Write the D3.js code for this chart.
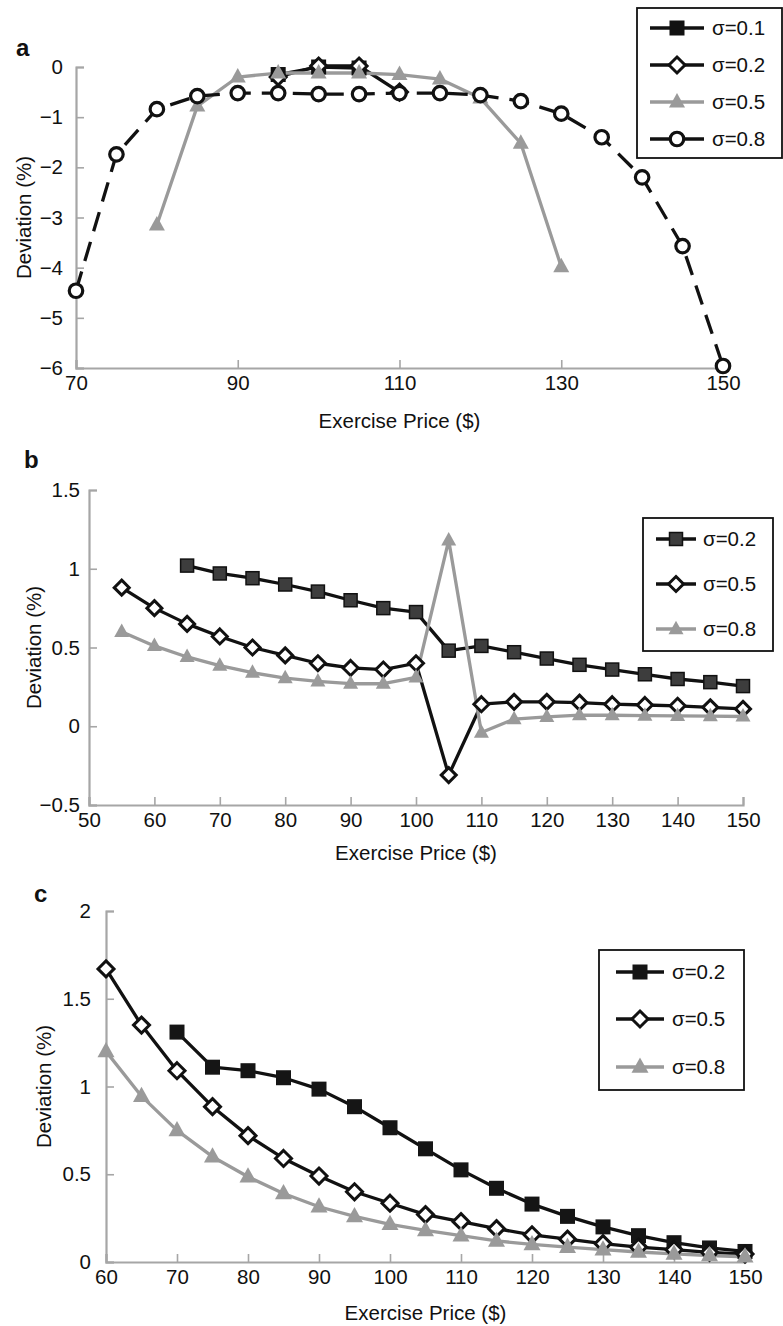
<!DOCTYPE html>
<html><head><meta charset="utf-8">
<script src="https://cdn.jsdelivr.net/npm/d3@7"></script>
<style>
body{margin:0;background:#fff;}
svg{display:block;font-family:"Liberation Sans",Arial,sans-serif;}
</style></head>
<body><svg id="chart" width="783" height="1326"></svg>
<script>
// ---------- Panel a data ----------
const aTicksX = [70, 90, 110, 130, 150];
const aTicksY = [0, -1, -2, -3, -4, -5, -6];
const aS01 = [[95,-0.15],[100,0],[105,-0.02]];
const aS02 = [[95,-0.2],[100,0.02],[105,0.02],[110,-0.5]];
const aS05 = [[80,-3.15],[85,-0.78],[90,-0.2],[95,-0.12],[100,-0.12],[105,-0.12],[110,-0.15],[115,-0.24],[120,-0.62],[125,-1.52],[130,-3.98]];
const aS08 = [[70,-4.46],[75,-1.74],[80,-0.84],[85,-0.58],[90,-0.52],[95,-0.52],[100,-0.54],[105,-0.54],[110,-0.52],[115,-0.52],[120,-0.56],[125,-0.68],[130,-0.93],[135,-1.4],[140,-2.2],[145,-3.57],[150,-5.96]];
const aLegend = ["σ=0.1","σ=0.2","σ=0.5","σ=0.8"];

// ---------- Panel b data ----------
const bTicksX = [50,60,70,80,90,100,110,120,130,140,150];
const bTicksY = [-0.5, 0, 0.5, 1, 1.5];
const bS02 = [[65,1.02],[70,0.97],[75,0.94],[80,0.9],[85,0.855],[90,0.8],[95,0.75],[100,0.725],[105,0.48],[110,0.51],[115,0.47],[120,0.43],[125,0.39],[130,0.36],[135,0.33],[140,0.3],[145,0.28],[150,0.255]];
const bS05 = [[55,0.88],[60,0.75],[65,0.65],[70,0.57],[75,0.5],[80,0.45],[85,0.4],[90,0.37],[95,0.36],[100,0.4],[105,-0.31],[110,0.14],[115,0.155],[120,0.155],[125,0.15],[130,0.14],[135,0.135],[140,0.13],[145,0.12],[150,0.11]];
const bS08 = [[55,0.6],[60,0.51],[65,0.44],[70,0.385],[75,0.34],[80,0.305],[85,0.285],[90,0.27],[95,0.27],[100,0.31],[105,1.18],[110,-0.04],[115,0.045],[120,0.06],[125,0.07],[130,0.07],[135,0.068],[140,0.066],[145,0.064],[150,0.062]];
const bLegend = ["σ=0.2","σ=0.5","σ=0.8"];

// ---------- Panel c data ----------
const cTicksX = [60,70,80,90,100,110,120,130,140,150];
const cTicksY = [0, 0.5, 1, 1.5, 2];
const cS02 = [[70,1.31],[75,1.11],[80,1.09],[85,1.05],[90,0.985],[95,0.885],[100,0.765],[105,0.645],[110,0.525],[115,0.42],[120,0.33],[125,0.26],[130,0.2],[135,0.15],[140,0.11],[145,0.08],[150,0.06]];
const cS05 = [[60,1.67],[65,1.35],[70,1.09],[75,0.885],[80,0.72],[85,0.59],[90,0.49],[95,0.4],[100,0.335],[105,0.27],[110,0.23],[115,0.19],[120,0.155],[125,0.13],[130,0.105],[135,0.085],[140,0.07],[145,0.055],[150,0.045]];
const cS08 = [[60,1.2],[65,0.945],[70,0.75],[75,0.6],[80,0.486],[85,0.39],[90,0.315],[95,0.26],[100,0.215],[105,0.18],[110,0.15],[115,0.12],[120,0.1],[125,0.085],[130,0.07],[135,0.057],[140,0.046],[145,0.037],[150,0.03]];
const cLegend = ["σ=0.2","σ=0.5","σ=0.8"];

const svg = d3.select("#chart");
const AX = "#a6a6a6", BLK = "#111", GRY = "#9a9a9a";
const FONT = "Liberation Sans, Arial, sans-serif";

function marker(g, type, x, y, st){
  let s = st.size;
  if(type==="square"){
    g.append("rect").attr("x",x-s/2).attr("y",y-s/2).attr("width",s).attr("height",s)
      .attr("fill",st.fill).attr("stroke",st.stroke||"none").attr("stroke-width",st.sw||0);
  } else if(type==="diamond"){
    const h = s/2;
    g.append("path").attr("d",`M${x},${y-h}L${x+h},${y}L${x},${y+h}L${x-h},${y}Z`)
      .attr("fill","#fff").attr("stroke",BLK).attr("stroke-width",3);
  } else if(type==="triangle"){
    const w = s, h = s*0.9;
    g.append("path").attr("d",`M${x},${y-h*0.62}L${x+w/2},${y+h*0.38}L${x-w/2},${y+h*0.38}Z`)
      .attr("fill",GRY);
  } else if(type==="circle"){
    g.append("circle").attr("cx",x).attr("cy",y).attr("r",s/2)
      .attr("fill","#fff").attr("stroke",BLK).attr("stroke-width",3.2);
  }
}

function panel(cfg){
  const x = d3.scaleLinear().domain(cfg.xd).range([cfg.x0,cfg.x1]);
  const y = d3.scaleLinear().domain(cfg.yd).range([cfg.y1,cfg.y0]);
  const g = svg.append("g");
  const ax = g.append("g").attr("transform",`translate(0,${cfg.y1})`)
    .call(d3.axisBottom(x).tickValues(cfg.tx).tickSize(-8).tickFormat(d3.format("d")));
  const ay = g.append("g").attr("transform",`translate(${cfg.x0},0)`)
    .call(d3.axisLeft(y).tickValues(cfg.ty).tickSize(-8).tickPadding(cfg.ypad).tickFormat(d=>d<0?"\u2212"+Math.abs(d):String(d)));
  [ax,ay].forEach(a=>{
    a.attr("font-size",null).attr("font-family",null);
    a.select(".domain").attr("stroke",AX).attr("stroke-width",2.2);
    a.selectAll(".tick line").attr("stroke",AX).attr("stroke-width",1.6);
    a.selectAll(".tick text").attr("fill","#111").style("font-size",cfg.fs+"px").style("font-family",FONT);
  });
  ax.selectAll(".tick text").attr("y",cfg.xOff).attr("dy","0.71em");
  g.append("text").attr("x",(cfg.x0+cfg.x1)/2).attr("y",cfg.xtY).attr("text-anchor","middle")
    .style("font-size",cfg.fs+"px").attr("fill","#111").text("Exercise Price ($)");
  g.append("text").attr("transform",`translate(${cfg.ytX},${(cfg.y0+cfg.y1)/2}) rotate(-90)`)
    .attr("text-anchor","middle").style("font-size",cfg.fs+"px").attr("fill","#111").text("Deviation (%)");
  g.append("text").attr("x",cfg.lblX).attr("y",cfg.lblY).style("font-size","24px").attr("font-weight","bold")
    .attr("fill","#111").text(cfg.lbl);
  const line = d3.line().x(d=>x(d[0])).y(d=>y(d[1]));
  cfg.series.forEach(s=>{
    g.append("path").datum(s.data).attr("d",line).attr("fill","none")
      .attr("stroke",s.color).attr("stroke-width",s.lw||3.3).attr("stroke-linejoin","round")
      .attr("stroke-dasharray",s.dash||null);
  });
  cfg.series.forEach(s=>{
    s.data.forEach(d=>marker(g,s.type,x(d[0]),y(d[1]),s.st));
  });
  const L = cfg.leg;
  g.append("rect").attr("x",L.x).attr("y",L.y).attr("width",L.w).attr("height",L.h)
    .attr("fill","#fff").attr("stroke","#111").attr("stroke-width",1.8);
  cfg.series.forEach((s,i)=>{
    const yy = L.ey[i];
    g.append("line").attr("x1",L.lx0).attr("x2",L.lx1).attr("y1",yy).attr("y2",yy)
      .attr("stroke",s.color).attr("stroke-width",3.4);
    marker(g,s.type,(L.lx0+L.lx1)/2,yy,s.st);
    g.append("text").attr("x",L.tx).attr("y",yy).attr("dy","0.36em").style("font-size",L.fs+"px")
      .attr("fill","#111").text(cfg.names[i]);
  });
}

panel({
  xd:[70,150], yd:[-6,0], x0:76, x1:723, y0:67, y1:368, tx:aTicksX, ty:aTicksY, fs:20.5, ypad:13, xOff:7,
  xtY:428, ytX:31, lbl:"a", lblX:16, lblY:56, names:aLegend,
  series:[
    {data:aS01,type:"square",color:BLK,st:{size:15,fill:BLK}},
    {data:aS02,type:"diamond",color:BLK,st:{size:16}},
    {data:aS05,type:"triangle",color:GRY,st:{size:16}},
    {data:aS08,type:"circle",color:BLK,dash:"20,11",st:{size:13.5}}
  ],
  leg:{x:637,y:8,w:145,h:150,ey:[28,65,102,139],lx0:650,lx1:704,tx:712,fs:20.5}
});

panel({
  xd:[50,150], yd:[-0.5,1.5], x0:89, x1:743, y0:490, y1:805, tx:bTicksX, ty:bTicksY, fs:20.5, ypad:9, xOff:7,
  xtY:860, ytX:41, lbl:"b", lblX:24, lblY:468, names:bLegend,
  series:[
    {data:bS02,type:"square",color:BLK,st:{size:13,fill:"#3d3d3d",stroke:"#111",sw:1.5}},
    {data:bS05,type:"diamond",color:BLK,st:{size:15}},
    {data:bS08,type:"triangle",color:GRY,st:{size:15}}
  ],
  leg:{x:643,y:518,w:130,h:133,ey:[539,584,629],lx0:656,lx1:696,tx:703,fs:20.5}
});

panel({
  xd:[60,150], yd:[0,2], x0:106, x1:745, y0:911, y1:1262, tx:cTicksX, ty:cTicksY, fs:20.5, ypad:15, xOff:7,
  xtY:1320, ytX:51, lbl:"c", lblX:34, lblY:902, names:cLegend,
  series:[
    {data:cS02,type:"square",color:BLK,st:{size:15,fill:"#151515"}},
    {data:cS05,type:"diamond",color:BLK,st:{size:16}},
    {data:cS08,type:"triangle",color:GRY,st:{size:17}}
  ],
  leg:{x:599,y:950,w:145,h:140,ey:[972,1019,1067],lx0:616,lx1:664,tx:672,fs:20.5}
});
</script></body></html>
